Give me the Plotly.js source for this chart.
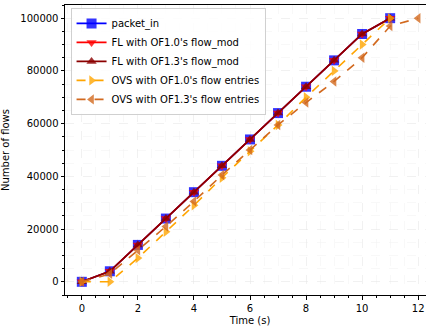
<!DOCTYPE html>
<html><head><meta charset="utf-8">
<script src="https://cdn.plot.ly/plotly-3.0.1.min.js"></script>
<style>html,body{margin:0;padding:0;overflow:hidden;background:#fff;width:426px;height:330px}</style>
</head><body><div id="chart" style="width:440px;height:330px"></div>
<script>
const time = [0,1,2,3,4,5,6,7,8,9,10,11,12];
const packetIn = [0,4000,14000,24000,34000,44000,54000,64000,74000,84000,94000,100000];
const flOF10 = [0,4000,14000,24000,34000,44000,54000,64000,74000,84000,94000,100000];
const flOF13 = [0,4000,14000,24000,34000,44000,54000,64000,74000,84000,94000,100000];
const ovsOF10 = [0,0,9000,19000,29000,39500,49500,59500,70000,80000,90000,100000];
const ovsOF13 = [0,3000,12000,21000,30500,40500,50000,59500,68000,76000,85000,97000,100000];
const names = ["packet_in","FL with OF1.0's flow_mod","FL with OF1.3's flow_mod","OVS with OF1.0's flow entries","OVS with OF1.3's flow entries"];

function tr(y, name, color, sym, dash, size){
  return {x: time.slice(0, y.length), y: y, name: name, type:'scatter', mode:'lines+markers',
    line:{color:color, width:1.6, dash:dash},
    marker:{symbol:sym, color:color, size:size, opacity:0.8, line:{width:0}}};
}
const data = [
  tr(packetIn, names[0], '#0000ff', 'square', 'solid', 10),
  tr(flOF10, names[1], '#ff0000', 'triangle-down', 'solid', 9),
  tr(flOF13, names[2], '#8b0000', 'triangle-up', 'solid', 9),
  tr(ovsOF10, names[3], '#ffa500', 'triangle-right', 'dash', 9),
  tr(ovsOF13, names[4], '#d2691e', 'triangle-left', 'dash', 9)
];
const grid = {gridcolor:'#e8e8e8', griddash:'dash', gridwidth:0.6};
const layout = {
  width:440, height:330,
  margin:{l:65, r:5, t:5, b:35},
  paper_bgcolor:'#fff', plot_bgcolor:'#fff',
  font:{family:'DejaVu Sans', size:10, color:'#000'},
  showlegend:true,
  legend:{x:0.015, y:0.99, xanchor:'left', yanchor:'top', bgcolor:'rgba(255,255,255,0.85)',
    bordercolor:'#d0d0d0', borderwidth:1, font:{size:10}, tracegroupgap:0, itemwidth:30},
  xaxis:Object.assign({range:[-0.6,12.6], dtick:2, tick0:0, showline:true, linecolor:'#000', linewidth:1,
    mirror:true, ticks:'outside', ticklen:3.5, tickcolor:'#000', zeroline:false,
    title:{text:'Time (s)', font:{size:10}, standoff:4},
    minor:{dtick:0.5, ticks:'outside', ticklen:2, tickcolor:'#000', showgrid:true, gridcolor:'#f2f2f2', griddash:'dash', gridwidth:0.5}}, grid),
  yaxis:Object.assign({range:[-5000,105000], dtick:20000, tick0:0, tickformat:'d', showline:true, linecolor:'#000', linewidth:1,
    mirror:true, ticks:'outside', ticklen:3.5, tickcolor:'#000', zeroline:false,
    title:{text:'Number of flows', font:{size:10}, standoff:8},
    minor:{dtick:5000, ticks:'outside', ticklen:2, tickcolor:'#000', showgrid:true, gridcolor:'#f2f2f2', griddash:'dash', gridwidth:0.5}}, grid)
};
Plotly.newPlot('chart', data, layout, {displayModeBar:false, staticPlot:true});
</script></body></html>
